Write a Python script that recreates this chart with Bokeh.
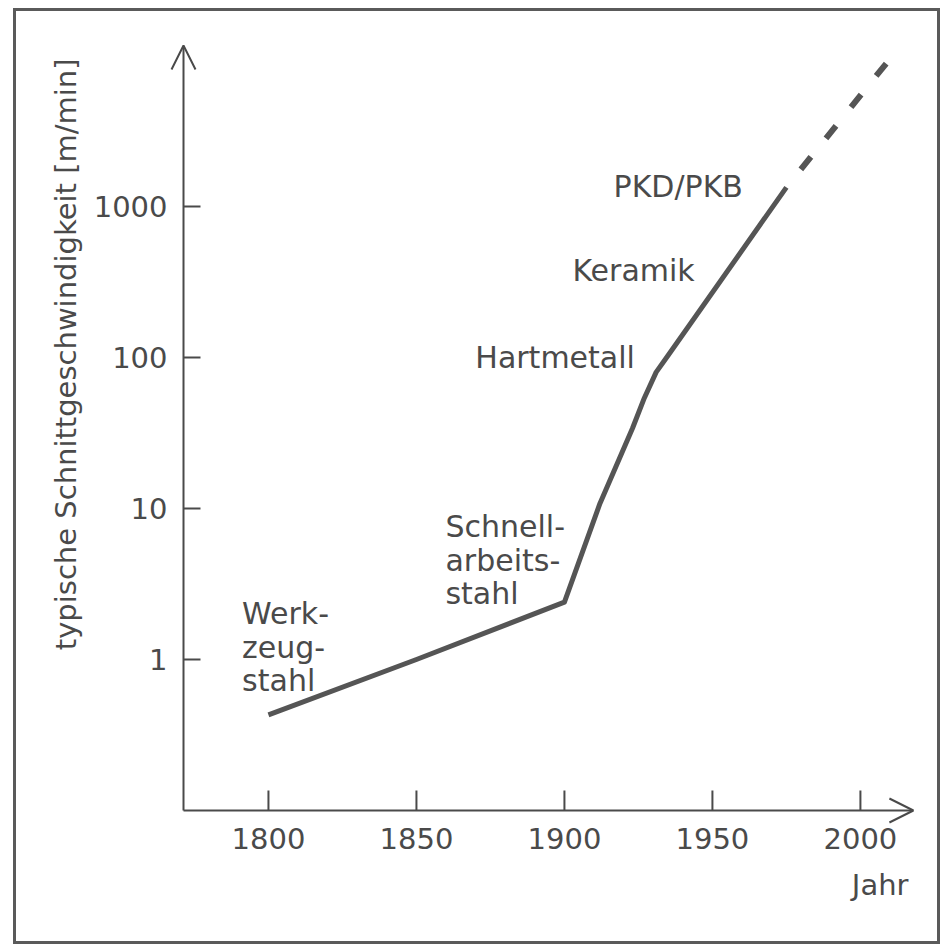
import math
from bokeh.plotting import figure
from bokeh.models import FixedTicker, Arrow, OpenHead, Title, Range1d
from bokeh.layouts import column
from bokeh.embed import file_html
from bokeh.resources import INLINE
from bokeh.core.properties import value

# ---------------- data ----------------
years_solid = [1800, 1850, 1900, 1912, 1923, 1927, 1931, 1935, 1975]
speed_solid = [0.43, 1.0, 2.4, 10.8, 34, 54, 80, 103, 1340]
years_trend = [1975, 2009]
speed_trend = [1340, 9000]

x_ticks = [1800, 1850, 1900, 1950, 2000]
x_tick_labels = ["1800", "1850", "1900", "1950", "2000"]
y_ticks = [1, 10, 100, 1000]
y_tick_labels = ["1", "10", "100", "1000"]

material_lines = ["Werk-", "zeug-", "stahl",
                  "Schnell-", "arbeits-", "stahl",
                  "Hartmetall", "Keramik", "PKD/PKB"]

y_title = "typische Schnittgeschwindigkeit [m/min]"
x_title = "Jahr"

# ---------------- layout (anchors, ranges, styles) ----------------
label_x = [1791.1, 1791.1, 1791.1, 1859.8, 1859.8, 1859.8, 1869.9, 1902.7, 1916.6]
label_y = [2.02, 1.20, 0.726, 7.60, 4.52, 2.74, 100, 377, 1356]

INK = "#4a4a4a"
FONT = "DejaVu Sans"

# axis origin / arrow tips (data units)
XA, XTIP = 1771.3, 2017.9
YA, YTIP = 0.1, 11650
# frame extends a little beyond the drawn axes so arrow heads are not clipped
X0, X1 = 1766.23, 2020.3
Y0, Y1 = 0.07957, 12963

p = figure(width=921, height=930, output_backend="svg", toolbar_location=None,
           y_axis_type="log",
           x_range=Range1d(X0, X1), y_range=Range1d(Y0, Y1),
           min_border_left=152, min_border_right=17,
           min_border_top=27, min_border_bottom=116)
p.outline_line_color = None
p.xgrid.visible = False
p.ygrid.visible = False
p.background_fill_color = "white"
p.border_fill_color = "white"

for ax in (p.xaxis[0], p.yaxis[0]):
    ax.axis_line_color = None
    ax.major_tick_line_color = None
    ax.minor_tick_line_color = None
    ax.major_tick_in = 0
    ax.major_tick_out = 0
    ax.minor_tick_in = 0
    ax.minor_tick_out = 0
    ax.major_label_text_font = FONT
    ax.major_label_text_font_size = "29px"
    ax.major_label_text_color = INK

p.xaxis.ticker = FixedTicker(ticks=x_ticks)
p.xaxis.major_label_overrides = dict(zip(x_ticks, x_tick_labels))
p.xaxis.major_label_standoff = 2

p.yaxis.ticker = FixedTicker(ticks=y_ticks, minor_ticks=[])
p.yaxis.major_label_overrides = dict(zip(y_ticks, y_tick_labels))
p.yaxis.major_label_standoff = 1

# axis lines with open arrow heads
p.add_layout(Arrow(end=OpenHead(size=24, line_color=INK, line_width=2),
                   x_start=XA, y_start=YA, x_end=XA, y_end=YTIP,
                   line_color=INK, line_width=2))
p.add_layout(Arrow(end=OpenHead(size=24, line_color=INK, line_width=2),
                   x_start=XA, y_start=YA, x_end=XTIP, y_end=YA,
                   line_color=INK, line_width=2))

# inward ticks
p.ray(x=x_ticks, y=[YA] * len(x_ticks), length=20, length_units="screen",
      angle=math.pi / 2, line_color=INK, line_width=2)
p.ray(x=[XA] * len(y_ticks), y=y_ticks, length=17, length_units="screen",
      angle=0, line_color=INK, line_width=2)

# data line
p.line(years_solid, speed_solid, line_width=5, line_color="#555555", line_join="round")
p.line(years_trend, speed_trend, line_width=6, line_color="#555555",
       line_dash="16 24", line_dash_offset=17)

# material labels
p.text(x=label_x, y=label_y, text=material_lines,
       text_font=value(FONT), text_font_size="30px", text_color=INK,
       text_align="left", text_baseline="alphabetic")

# axis titles
p.add_layout(Title(text=y_title, align="right", offset=20, standoff=15,
                   text_font=FONT, text_font_size="29px",
                   text_font_style="normal", text_color=INK), "left")
p.add_layout(Title(text=x_title, align="right", offset=12, standoff=29,
                   text_font=FONT, text_font_size="29px",
                   text_font_style="normal", text_color=INK), "below")

layout = column(p, styles={"border": "3px solid #5a5a5a",
                           "margin-left": "13px", "margin-top": "8px"})

open("out.html", "w").write(file_html(layout, INLINE))
